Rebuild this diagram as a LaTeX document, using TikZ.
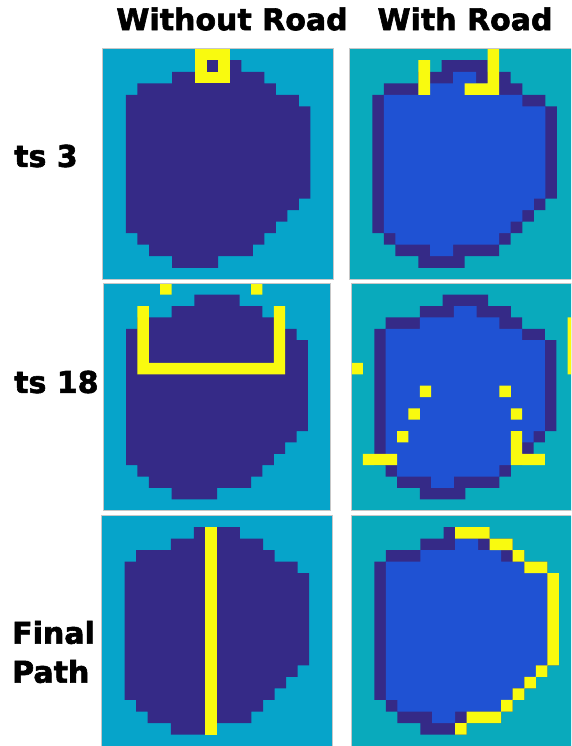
\documentclass[tikz,border=0pt]{standalone}
\usepackage{fontspec}
\setmainfont{DejaVu Sans}[BoldFeatures={FakeBold=2}]
\definecolor{bgleft}{RGB}{6,164,202}
\definecolor{bgright}{RGB}{9,170,188}
\definecolor{deep}{RGB}{53,42,135}
\definecolor{lake}{RGB}{31,82,211}
\definecolor{road}{RGB}{249,250,15}
\newcommand{\blobout}{(8,1) -- (12,1) -- (12,2) -- (14,2) -- (14,3) -- (15,3) -- (15,4) -- (17,4) -- (17,5) -- (18,5) -- (18,13) -- (17,13) -- (17,14) -- (16,14) -- (16,15) -- (15,15) -- (15,16) -- (14,16) -- (14,17) -- (13,17) -- (13,18) -- (10,18) -- (10,19) -- (6,19) -- (6,18) -- (4,18) -- (4,17) -- (3,17) -- (3,16) -- (2,16) -- (2,4) -- (3,4) -- (3,3) -- (6,3) -- (6,2) -- (8,2) -- cycle}
\newcommand{\blobin}{(9,2) -- (11,2) -- (11,3) -- (13,3) -- (13,4) -- (15,4) -- (15,5) -- (17,5) -- (17,13) -- (16,13) -- (16,14) -- (15,14) -- (15,15) -- (14,15) -- (14,16) -- (13,16) -- (13,17) -- (9,17) -- (9,18) -- (7,18) -- (7,17) -- (4,17) -- (4,16) -- (3,16) -- (3,4) -- (6,4) -- (6,3) -- (9,3) -- cycle}
\newcommand{\sq}[2]{(#1,#2) rectangle ++(1,1)}

\begin{document}
\begin{tikzpicture}[x=1pt, y=-1pt,
  lbl/.style={font=\fontsize{30}{39}\selectfont\bfseries, inner sep=0pt},
  panel/.style n args={3}{shift={(#1pt,-#2pt)}, x=#3pt, y=-#3pt},
  frame/.style={draw=black!22, line width=1pt}]
  \clip (0,0) rectangle (571,746);
  \fill[white] (0,0) rectangle (571,746);
  \node[lbl] (colA) at (232,19) {Without Road};
  \node[lbl] (colB) at (465,19) {With Road};
  \node[lbl, anchor=west] (rowA) at (14,156) {ts 3};
  \node[lbl, anchor=west] (rowB) at (14,382) {ts 18};
  \node[lbl, anchor=west, align=left] (rowC) at (12,652) {Final\\Path};
  % ts 3
  \begin{scope}[panel={102.9}{48.7}{11.53}]
    \fill[bgleft] (0,0) rectangle (20,20);
    \fill[deep] \blobout;
    \fill[road] (8,0) rectangle (11,3);
    \fill[deep] \sq{9}{1};
    \draw[frame] (0,0) rectangle (20,20);
  \end{scope}
  \begin{scope}[panel={349.3}{48.7}{11.53}]
    \fill[bgright] (0,0) rectangle (20,20);
    \fill[deep] \blobout;
    \fill[lake] \blobin;
    \fill[road] (12,0) rectangle (13,4) (6,1) rectangle (7,4) (10,3) rectangle (12,4);
    \draw[frame] (0,0) rectangle (20,20);
  \end{scope}
  % ts 18
  \begin{scope}[panel={103.3}{283.3}{11.37}]
    \fill[bgleft] (0,0) rectangle (20,20);
    \fill[deep] \blobout;
    \fill[road] \sq{5}{0} \sq{13}{0} (3,2) rectangle (4,8) (15,2) rectangle (16,8) (3,7) rectangle (16,8);
    \draw[frame] (0,0) rectangle (20,20);
  \end{scope}
  \begin{scope}[panel={351.6}{283.3}{11.37}]
    \fill[bgright] (0,0) rectangle (20,20);
    \fill[deep] \blobout;
    \fill[lake] \blobin;
    \fill[road] (19,3) rectangle (20,8) \sq{0}{7} \sq{6}{9} \sq{13}{9} \sq{5}{11} \sq{14}{11} \sq{4}{13}
      (14,13) rectangle (15,16) (1,15) rectangle (4,16) (14,15) rectangle (17,16);
    \draw[frame] (0,0) rectangle (20,20);
  \end{scope}
  % final path
  \begin{scope}[panel={101.6}{515.5}{11.53}]
    \fill[bgleft] (0,0) rectangle (20,20);
    \fill[deep] \blobout;
    \fill[road] (9,1) rectangle (10,19);
    \draw[frame] (0,0) rectangle (20,20);
  \end{scope}
  \begin{scope}[panel={351.3}{515.5}{11.53}]
    \fill[bgright] (0,0) rectangle (20,20);
    \fill[deep] \blobout;
    \fill[lake] \blobin;
    \fill[road] (9,1) rectangle (12,2) (12,2) rectangle (14,3) \sq{14}{3} (15,4) rectangle (17,5) (17,5) rectangle (18,13)
      \sq{16}{13} \sq{15}{14} \sq{14}{15} \sq{13}{16} (10,17) rectangle (13,18) \sq{9}{18};
    \draw[frame] (0,0) rectangle (20,20);
  \end{scope}
\end{tikzpicture}
\end{document}
